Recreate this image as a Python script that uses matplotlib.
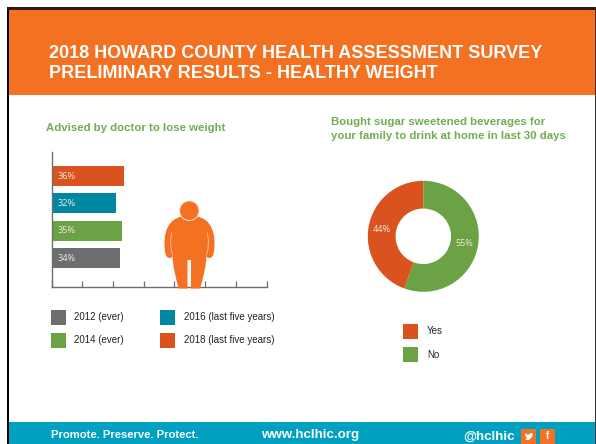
import matplotlib
matplotlib.use("Agg")
import matplotlib.pyplot as plt
import numpy as np
from matplotlib.patches import Rectangle, Circle, PathPatch, Polygon
from matplotlib.path import Path

plt.rcParams['font.family'] = ['Liberation Sans', 'DejaVu Sans']

title_lines = ['2018 HOWARD COUNTY HEALTH ASSESSMENT SURVEY',
               'PRELIMINARY RESULTS - HEALTHY WEIGHT']

bar_title = 'Advised by doctor to lose weight'
bar_labels = ['2012 (ever)', '2014 (ever)', '2016 (last five years)', '2018 (last five years)']
bar_values = [34, 35, 32, 36]

pie_title = ['Bought sugar sweetened beverages for',
             'your family to drink at home in last 30 days']
pie_labels = ['No', 'Yes']
pie_values = [55, 44]

ORANGE = '#F57122'
RED = '#DA531E'
TEAL = '#0087A3'
GREEN = '#6BA245'
GRAY = '#6D6E70'
CYAN = '#00A0C1'
TITLE_GREEN = '#70AD54'
LABEL = '#F3E9E0'
bar_colors = [GRAY, GREEN, TEAL, RED]

W, H = 596, 444
fig = plt.figure(figsize=(W / 100, H / 100), dpi=100, facecolor='white')


def box(left, top, right, bottom):
    return [left / W, 1 - bottom / H, (right - left) / W, (bottom - top) / H]


# overlay in pixel coordinates for the page furniture
page = fig.add_axes([0, 0, 1, 1], zorder=3)
page.set_xlim(0, W)
page.set_ylim(H, 0)
page.axis('off')
page.patch.set_visible(False)

page.add_patch(Rectangle((9, 10), W - 10, 85, color=ORANGE, lw=0))
page.add_patch(Rectangle((9, 421.5), W - 10, H - 421.5, color=CYAN, lw=0))
page.add_patch(Rectangle((7, 7.5), 2.2, H - 7.5, color='black', lw=0))
page.add_patch(Rectangle((7, 7.5), W - 7, 2.5, color='#2a1a10', lw=0))
page.add_patch(Rectangle((594.8, 7.5), 1.2, H - 7.5, color='#333333', lw=0))

page.text(49, 53, title_lines[0], color='white', fontsize=12.95, fontweight='bold', va='center')
page.text(49, 74, title_lines[1], color='white', fontsize=12.95, fontweight='bold', va='center')
page.text(46, 128, bar_title, color=TITLE_GREEN, fontsize=8.2, fontweight='bold', va='center')
page.text(331, 122, pie_title[0], color=TITLE_GREEN, fontsize=8.2, fontweight='bold', va='center')
page.text(331, 136, pie_title[1], color=TITLE_GREEN, fontsize=8.2, fontweight='bold', va='center')

# bar legend
legend_pos = [(51, 310), (51, 333), (160, 310), (160, 333)]
for (lx, ly), lab, col in zip(legend_pos, bar_labels, bar_colors):
    page.add_patch(Rectangle((lx, ly), 15, 15, color=col, lw=0))
    page.text(lx + 23.5, ly + 6.5, lab, color='#222222', fontsize=7.0, va='center')

# donut legend
page.add_patch(Rectangle((403, 324), 15, 15, color=RED, lw=0))
page.add_patch(Rectangle((403, 347), 15, 15, color=GREEN, lw=0))
page.text(427, 330.5, pie_labels[1], color='#222222', fontsize=7.0, va='center')
page.text(427, 354.5, pie_labels[0], color='#222222', fontsize=7.0, va='center')

# person icon
body = [(189.5, 216), (208, 215), (214.5, 228), (214.5, 243), (214.5, 250), (214, 258),
        (209.5, 258), (208, 258), (207, 257.5), (206.5, 256), (206, 268), (203, 278),
        (200, 288.5), (191, 288.5), (191, 260), (187.5, 260), (187.5, 288.5), (178.5, 288.5),
        (176, 278), (173, 268), (172.5, 256), (172, 257.5), (171, 258), (169.5, 258),
        (165, 258), (164.5, 250), (164.5, 243), (164.5, 228), (171, 215), (189.5, 216)]
codes = [Path.MOVETO, Path.CURVE4, Path.CURVE4, Path.CURVE4, Path.CURVE4, Path.CURVE4,
         Path.CURVE4, Path.CURVE4, Path.CURVE4, Path.CURVE4, Path.CURVE4, Path.CURVE4,
         Path.CURVE4, Path.LINETO, Path.LINETO, Path.LINETO, Path.LINETO, Path.LINETO,
         Path.CURVE4, Path.CURVE4, Path.CURVE4, Path.CURVE4, Path.CURVE4, Path.CURVE4,
         Path.CURVE4, Path.CURVE4, Path.CURVE4, Path.CURVE4, Path.CURVE4, Path.CURVE4]
page.add_patch(PathPatch(Path(body, codes), facecolor=ORANGE, edgecolor='none'))
page.add_patch(Circle((189.3, 210.7), 10.3, color='#FDE3D0', lw=0))
page.add_patch(Circle((189.3, 210.7), 9.3, color=ORANGE, lw=0))
page.plot([171.5, 170.6, 171, 172.5], [233, 241, 249, 255], color='#FBC6A0', lw=0.6)
page.plot([207.5, 208.4, 208, 206.5], [233, 241, 249, 255], color='#FBC6A0', lw=0.6)

# footer
page.text(51, 435, 'Promote. Preserve. Protect.', color='white', fontsize=8.1, fontweight='bold', va='center')
page.text(261, 435, 'www.hclhic.org', color='white', fontsize=9.6, fontweight='bold', va='center')
page.text(463, 436.5, '@hclhic', color='white', fontsize=9.6, fontweight='bold', va='center')
page.add_patch(Rectangle((521, 429), 15, 14.5, color=ORANGE, lw=0))
page.add_patch(Rectangle((540, 429), 15, 14.5, color=ORANGE, lw=0))
page.add_patch(Polygon([(525, 433), (528, 435), (531, 433), (533, 433.5), (532, 437),
                        (529, 440), (525, 440), (527, 438.5), (525.5, 436)],
                       color='white', lw=0))
page.text(547.5, 436, 'f', color='white', fontsize=7, fontweight='bold', ha='center', va='center')

# bars
ax = fig.add_axes(box(51.5, 152, 266.5, 287))
y = np.arange(len(bar_values))
ax.barh(y, bar_values, height=0.73, color=bar_colors)
ax.set_xlim(-0.76, 108.4)
ax.set_ylim(-1.06, 3.88)
ax.set_xticks(np.linspace(-0.76, 108.4, 8))
ax.set_yticks([])
ax.tick_params(axis='x', direction='in', length=4.3, width=0.9, color=GRAY, labelbottom=False)
for s in ['top', 'right']:
    ax.spines[s].set_visible(False)
for s in ['left', 'bottom']:
    ax.spines[s].set_color(GRAY)
    ax.spines[s].set_linewidth(1.0)
for yi, v in zip(y, bar_values):
    ax.text(2.4, yi, f'{v}%', color=LABEL, fontsize=6.6, family='Open Sans', va='center')

# donut
ax2 = fig.add_axes(box(423.3 - 55.5, 236.3 - 55.5, 423.3 + 55.5, 236.3 + 55.5))
wedges, texts = ax2.pie(pie_values, colors=[GREEN, RED], startangle=90, counterclock=False,
                        radius=1, wedgeprops={'width': 0.5},
                        labels=[f'{v}%' for v in pie_values], labeldistance=0.75,
                        textprops={'color': LABEL, 'fontsize': 6.6, 'family': 'Open Sans'})
for t in texts:
    t.set_ha('center')
    t.set_va('center')
ax2.set_xlim(-1, 1)
ax2.set_ylim(-1, 1)

fig.savefig('out.png', dpi=100)
